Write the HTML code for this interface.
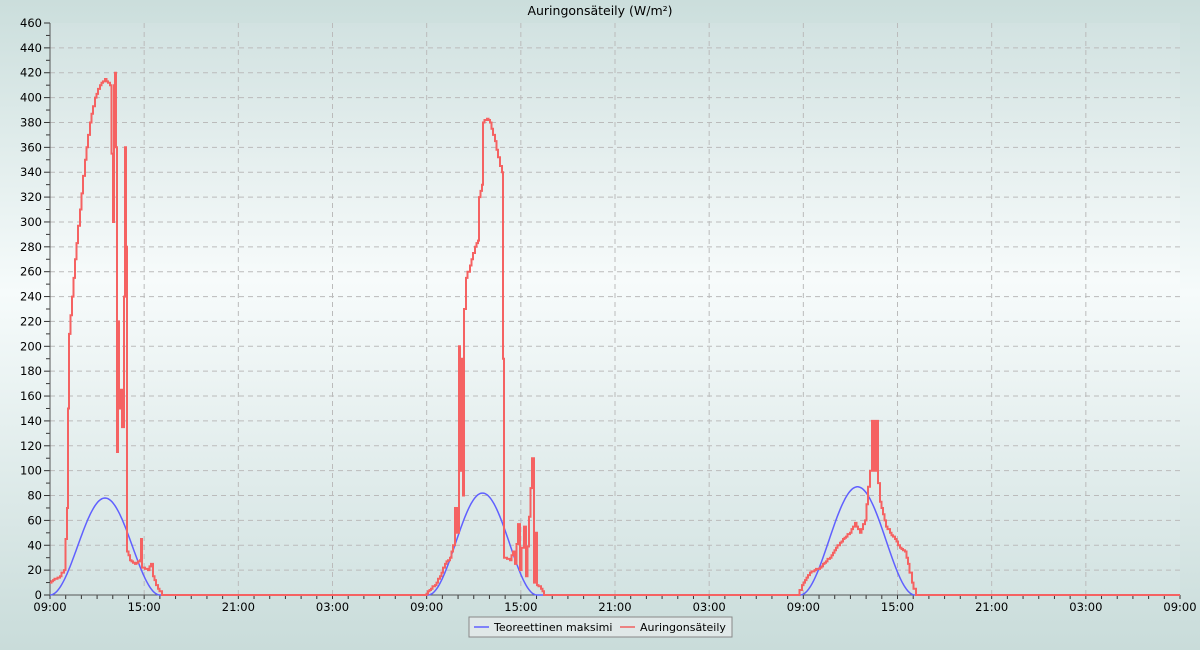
<!DOCTYPE html><html><head><style>body{margin:0;background:#cddedd}svg{display:block}</style></head><body>
<svg id="s" width="1200" height="650" xmlns="http://www.w3.org/2000/svg" font-family="'DejaVu Sans','Liberation Sans',sans-serif">
<defs>
<linearGradient id="bg" x1="0" y1="0" x2="0" y2="1"><stop offset="0" stop-color="#cbdedc"/><stop offset="0.45" stop-color="#f6fbfb"/><stop offset="1" stop-color="#c9dcda"/></linearGradient>
<linearGradient id="pb" x1="0" y1="0" x2="0" y2="1"><stop offset="0" stop-color="#d2e2e1"/><stop offset="0.45" stop-color="#f7fbfb"/><stop offset="1" stop-color="#d3e3e2"/></linearGradient>
</defs>
<rect width="1200" height="650" fill="url(#bg)"/>
<rect x="50" y="23" width="1130" height="572" fill="url(#pb)"/>
<text x="600" y="15" text-anchor="middle" font-size="12.5" fill="#000">Auringonsäteily (W/m²)</text>
<g id="g"></g>
<rect x="469" y="617" width="263" height="20" fill="#e0e8e8" stroke="#888"/>
<line x1="474" y1="627" x2="489" y2="627" stroke="#6060ff" stroke-width="1.5"/>
<text x="494" y="631" font-size="11">Teoreettinen maksimi</text>
<line x1="620" y1="627" x2="635" y2="627" stroke="#f06060" stroke-width="1.5"/>
<text x="640" y="631" font-size="11">Auringonsäteily</text>
</svg>
<script>
const g=document.getElementById('g');let h='';
const Y=v=>595-v*572/460;
for(let v=0;v<=460;v+=10){const y=Y(v);h+=`<line x1="${v%20?46:44}" x2="50" y1="${y}" y2="${y}" stroke="#333"/>`;
if(v%20==0){if(v>0&&v<460)h+=`<line x1="50" x2="1180" y1="${y}" y2="${y}" stroke="#bbb" stroke-dasharray="5,4"/>`;h+=`<text x="42" y="${y+4}" text-anchor="end" font-size="11.5">${v}</text>`}}
const L=['09:00','15:00','21:00','03:00'];
for(let i=0;i<=72;i++){const x=50+i*1130/72;h+=`<line x1="${x}" x2="${x}" y1="595" y2="599" stroke="#333"/>`;
if(i%6==0){if(i>0&&i<72)h+=`<line x1="${x}" x2="${x}" y1="23" y2="595" stroke="#bbb" stroke-dasharray="5,4"/>`;h+=`<text x="${x}" y="611" text-anchor="middle" font-size="11.5">${L[(i/6)%4]}</text>`}}
h+=`<line x1="50" x2="50" y1="23" y2="595" stroke="#555"/><line x1="50" x2="1180" y1="595" y2="595" stroke="#555"/>`;
let b=[];const bells=[[50,160,78],[428,537,82],[800,915,87]];
for(let x=50;x<=1180;x++){let v=0;for(const[a,c,p]of bells)if(x>a&&x<c){const s=Math.sin(Math.PI*(x-a)/(c-a));v=p*s*s}b.push(x+','+Y(v).toFixed(1))}
h+=`<polyline points="${b.join(' ')}" fill="none" stroke="#6060ff" stroke-width="1.5"/>`;
const r0=[[50,10],[60,15],[64,20],[67,70],[68,150],[69,210],[72,240],[75,270],[80,310],[85,350],[90,380],[95,400],[100,410],[105,415],[110,410],[113,300],[114,410],[115,420],[116,360],[117,115],[118,220],[119,150],[121,165],[122,135],[124,240],[125,360],[126,280],[127,35],[130,28],[135,25],[140,28],[141,45],[142,22],[148,20],[151,25],[153,15],[158,5],[162,0],
[425,0],[435,8],[440,15],[445,25],[450,30],[453,40],[455,70],[457,50],[459,200],[460,100],[461,190],[462,140],[463,80],[464,230],[466,255],[470,265],[475,280],[478,285],[479,320],[482,330],[483,380],[487,383],[490,380],[495,365],[500,345],[502,340],[503,190],[504,30],[510,28],[513,35],[515,25],[518,57],[520,20],[524,55],[526,15],[532,110],[534,10],[536,50],[537,8],[541,5],[544,0],
[798,0],[802,8],[810,18],[820,22],[830,30],[840,42],[850,50],[855,58],[860,50],[865,60],[870,100],[872,140],[874,100],[876,140],[878,90],[880,75],[883,65],[886,55],[890,50],[895,45],[900,38],[905,35],[908,25],[912,10],[916,0],[1180,0]];
// refine: interpolate at ~1.5px steps
let r=[r0[0]];
for(let i=1;i<r0.length;i++){const[a,va]=r0[i-1],[c,vc]=r0[i];const n=Math.floor((c-a)/1.5);
if(vc!==0||va!==0)for(let k=1;k<n;k++){const x=a+k*1.5;r.push([x,Math.round(va+(vc-va)*k/n)])}r.push(r0[i])}
let rs=[];for(let i=0;i<r.length;i++){if(i>0)rs.push(r[i][0]+','+Y(r[i-1][1]).toFixed(1));rs.push(r[i][0]+','+Y(r[i][1]).toFixed(1))}
h+=`<polyline points="${rs.join(' ')}" fill="none" stroke="#f56262" stroke-width="2"/>`;
g.innerHTML=h;
</script></body></html>
